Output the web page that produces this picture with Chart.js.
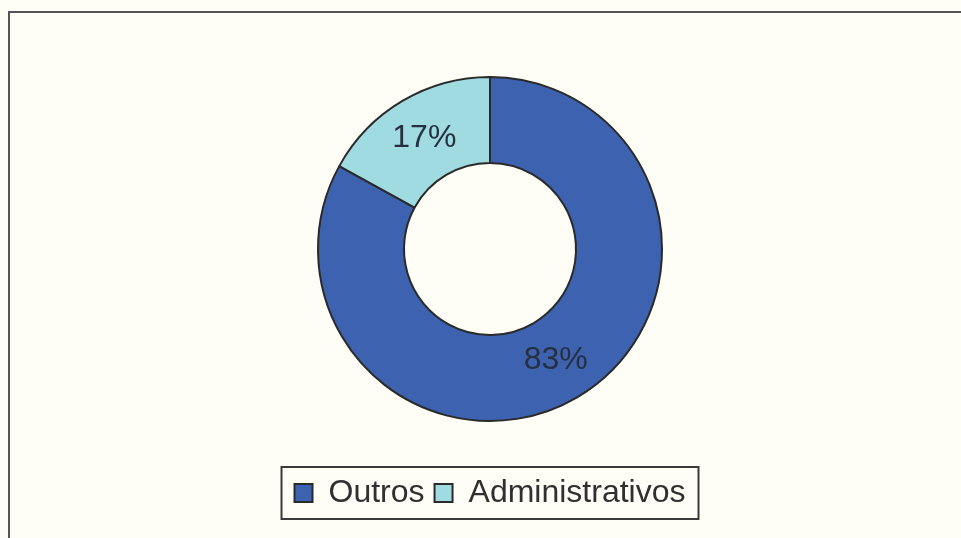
<!DOCTYPE html>
<html>
<head>
<meta charset="utf-8">
<script src="https://cdn.jsdelivr.net/npm/chart.js@4"></script>
<style>
  html, body { margin: 0; padding: 0; background: #fefdf6; }
  #wrap { position: relative; width: 961px; height: 538px; }
</style>
</head>
<body>
<div id="wrap"><canvas id="myDoughnut" width="961" height="538"></canvas></div>
<script>
var categories = ["Outros", "Administrativos"];
var shares = [83, 17];
var sliceColors = ["#3c62b0", "#9fdbe0"];

// fundo, moldura exterior e percentagens sobre cada fatia
var framePlugin = {
    id: "frame",
    beforeDraw: function(chart) {
        var ctx = chart.ctx;
        ctx.save();
        ctx.fillStyle = "#fefdf6";
        ctx.fillRect(0, 0, chart.width, chart.height);
        ctx.strokeStyle = "#555";
        ctx.lineWidth = 2;
        ctx.beginPath();
        ctx.moveTo(9, chart.height);
        ctx.lineTo(9, 12);
        ctx.lineTo(chart.width, 12);
        ctx.stroke();
        ctx.restore();
    },
    afterDraw: function(chart) {
        var ctx = chart.ctx;
        var total = shares.reduce(function(a, b) { return a + b; }, 0);
        ctx.save();
        ctx.font = "32px 'Liberation Sans', Arial, sans-serif";
        ctx.fillStyle = "#263040";
        ctx.textAlign = "center";
        ctx.textBaseline = "middle";
        chart.getDatasetMeta(0).data.forEach(function(arc, i) {
            var p = arc.tooltipPosition();
            ctx.fillText(Math.round(shares[i] / total * 100) + "%", p.x, p.y);
        });

        // caixa à volta da legenda
        var lg = chart.legend;
        var boxes = lg.legendHitBoxes;
        if (boxes && boxes.length) {
            var first = boxes[0], last = boxes[boxes.length - 1];
            ctx.strokeStyle = "#3a3a3a";
            ctx.lineWidth = 2;
            ctx.strokeRect(first.left - 13, lg.top, last.left + last.width - first.left + 26, lg.bottom - lg.top);
        }
        ctx.restore();
    }
};

var ctx = document.getElementById("myDoughnut");
new Chart(ctx, {
    type: "doughnut",
    data: {
        labels: categories,
        datasets: [{
            data: shares,
            backgroundColor: sliceColors,
            borderColor: "#2a2a2a",
            borderWidth: 2,
            hoverOffset: 0
        }]
    },
    options: {
        responsive: false,
        animation: false,
        cutout: "50%",
        radius: 172,
        layout: { padding: { left: 19, right: 0, top: 31, bottom: 19 } },
        plugins: {
            tooltip: { enabled: false },
            legend: {
                position: "bottom",
                labels: {
                    boxWidth: 18,
                    boxHeight: 18,
                    padding: 10,
                    color: "#303030",
                    font: { family: "'Liberation Sans', Arial, sans-serif", size: 32 }
                }
            }
        }
    },
    plugins: [framePlugin]
});
</script>
</body>
</html>
